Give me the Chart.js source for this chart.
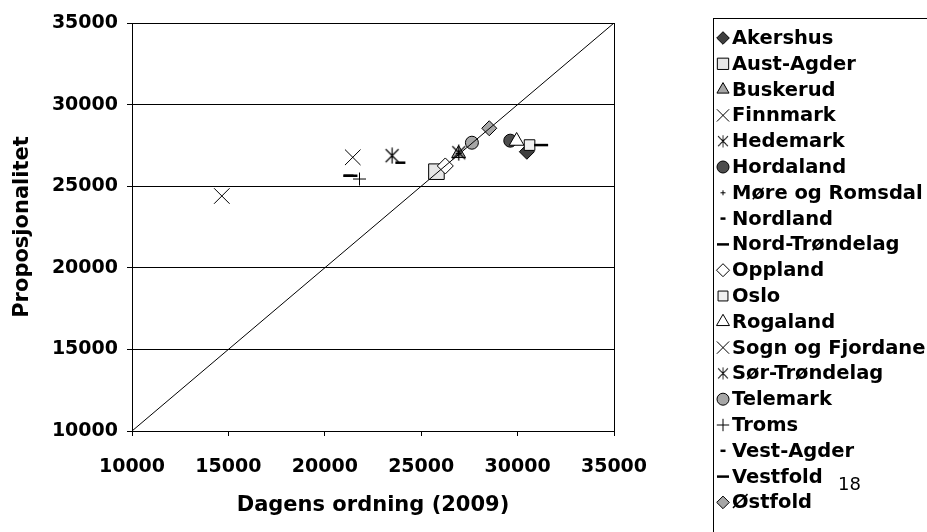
<!DOCTYPE html>
<html>
<head>
<meta charset="utf-8">
<script src="https://cdn.jsdelivr.net/npm/chart.js@4.4.1/dist/chart.umd.min.js"></script>
<style>
  body { margin: 0; background: #fff; }
  #wrap { position: relative; width: 927px; height: 532px; }
</style>
</head>
<body>
<div id="wrap"><canvas id="scatter"></canvas></div>
<script>
// fylker, in legend order
const fylker = ['Akershus', 'Aust-Agder', 'Buskerud', 'Finnmark', 'Hedemark', 'Hordaland',
  'Møre og Romsdal', 'Nordland', 'Nord-Trøndelag', 'Oppland', 'Oslo', 'Rogaland',
  'Sogn og Fjordane', 'Sør-Trøndelag', 'Telemark', 'Troms', 'Vest-Agder', 'Vestfold', 'Østfold'];
// x: Dagens ordning (2009), y: Proposjonalitet
const dagensOrdning = [30480, 25790, 26940, 14660, 23490, 29620, 26950, 23920, 21330, 26250,
  30620, 29950, 21450, 26950, 27630, 21800, 21230, 31220, 28530];
const proposjonalitet = [27110, 25890, 27000, 24400, 26870, 27790, 27000, 26440, 25640, 26240,
  27520, 27770, 26770, 27050, 27665, 25440, 25640, 27520, 28550];
// 45 degree reference line
const diagonalX = [10000, 35000];
const diagonalY = [10000, 35000];
const axisMin = 10000, axisMax = 35000, axisStep = 5000;

const FONT = 'DejaVu Sans';

// asterisk marker (X with a vertical bar)
function asterisk(size) {
  const c = document.createElement('canvas');
  c.width = size; c.height = size;
  const g = c.getContext('2d');
  g.strokeStyle = '#000';
  g.lineWidth = 1.2;
  const m = size / 2, d = size * 0.38;
  g.beginPath();
  g.moveTo(m - d, m - d); g.lineTo(m + d, m + d);
  g.moveTo(m + d, m - d); g.lineTo(m - d, m + d);
  g.moveTo(m, 0.5); g.lineTo(m, size - 0.5);
  g.stroke();
  return c;
}
const star = asterisk(17);

// marker style per fylke (r = plot radius, lr = legend radius)
const markers = [
  {style: 'rectRot', r: 7.5, lr: 6.3, fill: '#3f3f3f'},
  {style: 'rect', r: 11, lr: 8, fill: '#e6e6e6'},
  {style: 'triangle', r: 8, lr: 7, fill: '#a6a6a6'},
  {style: 'crossRot', r: 11, lr: 8.7, fill: '#000'},
  {style: star, r: 8, lr: 8, fill: '#000'},
  {style: 'circle', r: 6.5, lr: 6, fill: '#4d4d4d'},
  {style: 'cross', r: 3, lr: 2.5, fill: '#000'},
  {style: 'line', r: 5, lr: 2.5, fill: '#000', bw: 2.5},
  {style: 'line', r: 7, lr: 6, fill: '#000', bw: 2.5},
  {style: 'rectRot', r: 8, lr: 6.5, fill: '#ffffff'},
  {style: 'rect', r: 7.5, lr: 7, fill: '#f0f0f0'},
  {style: 'triangle', r: 8.5, lr: 7.5, fill: '#ffffff'},
  {style: 'crossRot', r: 11, lr: 8.7, fill: '#000'},
  {style: star, r: 8, lr: 8, fill: '#000'},
  {style: 'circle', r: 6.5, lr: 6, fill: '#a6a6a6'},
  {style: 'cross', r: 6.5, lr: 6.2, fill: '#000'},
  {style: 'line', r: 5, lr: 2.5, fill: '#000', bw: 2.5},
  {style: 'line', r: 7, lr: 6, fill: '#000', bw: 2.5},
  {style: 'rectRot', r: 7.5, lr: 6.3, fill: '#a6a6a6'}
];

const datasets = fylker.map((name, i) => ({
  label: name,
  data: [{x: dagensOrdning[i], y: proposjonalitet[i]}],
  pointStyle: markers[i].style,
  pointRadius: markers[i].r,
  backgroundColor: markers[i].fill,
  borderColor: '#000',
  borderWidth: markers[i].bw || 1,
  order: fylker.length - i
}));
datasets.push({
  type: 'line',
  label: '',
  data: diagonalX.map((x, i) => ({x: x, y: diagonalY[i]})),
  borderColor: '#000',
  borderWidth: 1,
  pointRadius: 0,
  order: -1
});

// legend box on the right, drawn from the datasets
const sideLegend = {
  id: 'sideLegend',
  afterDraw(chart) {
    const ctx = chart.ctx;
    ctx.save();
    ctx.strokeStyle = '#000';
    ctx.lineWidth = 1;
    ctx.strokeRect(713.5, 18.5, 260, 560);
    const ds = chart.data.datasets.filter(d => d.label);
    ds.forEach((d, i) => {
      const y = 38 + i * 25.8;
      const m = markers[i];
      ctx.fillStyle = d.backgroundColor;
      ctx.strokeStyle = '#000';
      ctx.lineWidth = d.borderWidth;
      if (typeof m.style !== 'string') {
        const s = 13;
        ctx.drawImage(m.style, 723 - s / 2, y - s / 2, s, s);
      } else {
        Chart.helpers.drawPoint(ctx, {pointStyle: m.style, radius: m.lr, rotation: 0, borderWidth: d.borderWidth}, 723, y);
      }
      ctx.fillStyle = '#000';
      ctx.font = 'bold 19.5px "' + FONT + '"';
      ctx.textBaseline = 'middle';
      ctx.textAlign = 'left';
      ctx.fillText(d.label, 732, y + 1);
    });
    ctx.font = '18px "' + FONT + '"';
    ctx.fillText('18', 838, 485);
    ctx.restore();
  }
};

const tickFont = {family: FONT, size: 19, weight: 'bold'};
const titleFont = {family: FONT, size: 21, weight: 'bold'};

new Chart(document.getElementById('scatter'), {
  type: 'scatter',
  data: {datasets: datasets},
  options: {
    responsive: true,
    maintainAspectRatio: false,
    animation: false,
    events: [],
    layout: {padding: {left: 0, top: 23, right: 313, bottom: 0}},
    plugins: {legend: {display: false}, tooltip: {enabled: false}},
    scales: {
      x: {
        type: 'linear',
        min: axisMin, max: axisMax,
        afterFit: s => { s.height = 101; },
        ticks: {stepSize: axisStep, color: '#000', font: tickFont, padding: 20, maxRotation: 0,
          callback: v => String(v)},
        grid: {
          color: c => (c.tick && c.tick.value === axisMax) ? '#000' : 'rgba(0,0,0,0)',
          tickColor: '#000', tickLength: 5, lineWidth: 1
        },
        border: {color: '#000', width: 1},
        title: {display: true, text: 'Dagens ordning (2009)', color: '#000', font: titleFont,
          padding: {top: 0, bottom: 14}}
      },
      y: {
        type: 'linear',
        min: axisMin, max: axisMax,
        afterFit: s => { s.width = 132; },
        ticks: {stepSize: axisStep, color: '#000', font: tickFont, padding: 9,
          callback: v => String(v)},
        grid: {color: '#000', tickColor: '#000', tickLength: 5, lineWidth: 1},
        border: {color: '#000', width: 1},
        title: {display: true, text: 'Proposjonalitet', color: '#000', font: titleFont,
          padding: {top: 10, bottom: 0}}
      }
    }
  },
  plugins: [sideLegend]
});
</script>
</body>
</html>
